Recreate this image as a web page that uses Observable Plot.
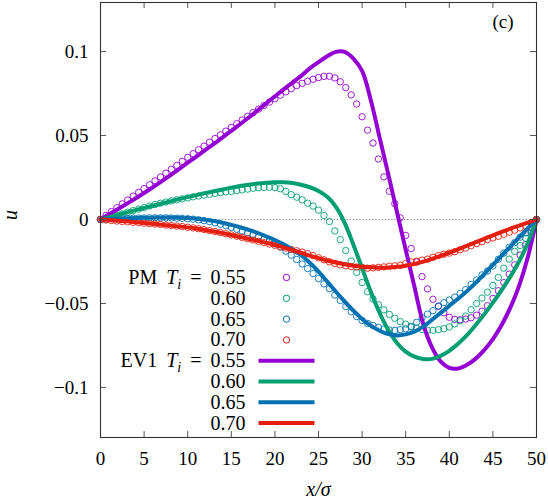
<!DOCTYPE html>
<html>
<head>
<meta charset="utf-8">
<script src="https://cdn.jsdelivr.net/npm/d3@7"></script>
<script src="https://cdn.jsdelivr.net/npm/@observablehq/plot@0.6"></script>
<style>
  html, body { margin: 0; padding: 0; background: #fff; }
</style>
</head>
<body>
<div id="chart"></div>
<script>
// ---------- data ----------
const xTicks = [0, 5, 10, 15, 20, 25, 30, 35, 40, 45, 50];
const xTickLabels = ["0", "5", "10", "15", "20", "25", "30", "35", "40", "45", "50"];
const yTicks = [-0.1, -0.05, 0, 0.05, 0.1];
const yTickLabels = ["\u22120.1", "\u22120.05", "0", "0.05", "0.1"];

const temps = ["0.55", "0.60", "0.65", "0.70"];
const colors = ["#9400d3", "#009e73", "#0072b2", "#e51e10"];

// sample grids (x positions of the solution / particle samples)
const xEV = d3.range(0, 51, 1);
const xPM = d3.range(0, 50.0001, 0.625);

// EV1 solutions at x = 0,1,...,50
const ev055 = [0,0.0031,0.0062,0.0093,0.0125,0.0158,0.0192,0.0227,0.0263,0.0300,0.0338,0.0375,0.0413,0.0450,0.0489,0.0528,0.0567,0.0607,0.0649,0.0691,0.0733,0.0775,0.0815,0.0855,0.0900,0.0937,0.0972,0.0998,0.0998,0.0958,0.0885,0.0710,0.0490,0.0270,0.0045,-0.0180,-0.0400,-0.0620,-0.0760,-0.0845,-0.0883,-0.0887,-0.0866,-0.0830,-0.0778,-0.0712,-0.0628,-0.0525,-0.0395,-0.0225,0];
const ev060 = [0,0.0014,0.0028,0.0042,0.0056,0.0069,0.0082,0.0095,0.0108,0.0121,0.0133,0.0145,0.0157,0.0168,0.0179,0.0189,0.0199,0.0207,0.0214,0.0219,0.0222,0.0222,0.0217,0.0207,0.0192,0.0170,0.0135,0.0075,-0.0020,-0.0150,-0.0290,-0.0430,-0.0555,-0.0658,-0.0735,-0.0787,-0.0817,-0.0830,-0.0830,-0.0812,-0.0782,-0.0740,-0.0690,-0.0630,-0.0565,-0.0495,-0.0420,-0.0340,-0.0250,-0.0140,0];
const ev065 = [0,0.0003,0.0005,0.0007,0.0009,0.0010,0.0011,0.0012,0.0012,0.0011,0.0009,0.0005,-0.0001,-0.0009,-0.0019,-0.0032,-0.0046,-0.0062,-0.0080,-0.0100,-0.0122,-0.0148,-0.0178,-0.0212,-0.0258,-0.0310,-0.0370,-0.0430,-0.0488,-0.0543,-0.0592,-0.0632,-0.0662,-0.0682,-0.0690,-0.0684,-0.0668,-0.0638,-0.0598,-0.0556,-0.0514,-0.0472,-0.0428,-0.0378,-0.0325,-0.0270,-0.0215,-0.0161,-0.0107,-0.0053,0];
const ev070 = [0,-0.0003,-0.0007,-0.0011,-0.0016,-0.0021,-0.0026,-0.0031,-0.0036,-0.0041,-0.0047,-0.0054,-0.0062,-0.0071,-0.0081,-0.0092,-0.0104,-0.0116,-0.0127,-0.0139,-0.0152,-0.0166,-0.0182,-0.0198,-0.0215,-0.0230,-0.0244,-0.0256,-0.0267,-0.0275,-0.0281,-0.0285,-0.0287,-0.0286,-0.0282,-0.0275,-0.0265,-0.0251,-0.0235,-0.0217,-0.0198,-0.0178,-0.0157,-0.0136,-0.0115,-0.0094,-0.0074,-0.0055,-0.0036,-0.0018,0];

// PM measurements at x = 0, 0.625, ..., 50
const pm055 = [0,0.0024,0.0047,0.0070,0.0093,0.0116,0.0139,0.0162,0.0184,0.0207,0.0230,0.0253,0.0276,0.0299,0.0322,0.0346,0.0370,0.0392,0.0415,0.0437,0.0460,0.0482,0.0504,0.0526,0.0548,0.0570,0.0592,0.0614,0.0636,0.0657,0.0678,0.0699,0.0720,0.0740,0.0760,0.0779,0.0797,0.0811,0.0823,0.0835,0.0845,0.0852,0.0853,0.0843,0.0820,0.0785,0.0742,0.0688,0.0612,0.0532,0.0455,0.0360,0.0254,0.0168,0.0094,0.0010,-0.0095,-0.0173,-0.0253,-0.0340,-0.0413,-0.0475,-0.0517,-0.0555,-0.0582,-0.0595,-0.0597,-0.0593,-0.0585,-0.0570,-0.0546,-0.0513,-0.0470,-0.0424,-0.0376,-0.0325,-0.0270,-0.0212,-0.0150,-0.0080,0];
const pm060 = [0,0.0009,0.0018,0.0026,0.0034,0.0043,0.0053,0.0062,0.0071,0.0080,0.0089,0.0097,0.0104,0.0111,0.0117,0.0123,0.0129,0.0135,0.0140,0.0145,0.0150,0.0155,0.0160,0.0164,0.0167,0.0171,0.0176,0.0181,0.0186,0.0189,0.0191,0.0192,0.0190,0.0183,0.0167,0.0148,0.0133,0.0117,0.0097,0.0080,0.0056,0.0024,-0.0012,-0.0068,-0.0120,-0.0185,-0.0248,-0.0315,-0.0375,-0.0430,-0.0473,-0.0508,-0.0538,-0.0565,-0.0588,-0.0608,-0.0623,-0.0636,-0.0647,-0.0655,-0.0659,-0.0660,-0.0656,-0.0650,-0.0640,-0.0622,-0.0603,-0.0575,-0.0537,-0.0500,-0.0468,-0.0433,-0.0393,-0.0345,-0.0290,-0.0236,-0.0190,-0.0155,-0.0112,-0.0060,0];
const pm065 = [0,0.0002,0.0004,0.0005,0.0006,0.0007,0.0008,0.0009,0.0009,0.0010,0.0010,0.0010,0.0010,0.0009,0.0008,0.0007,0.0005,0.0002,-0.0002,-0.0007,-0.0013,-0.0020,-0.0028,-0.0037,-0.0047,-0.0058,-0.0068,-0.0079,-0.0090,-0.0102,-0.0115,-0.0129,-0.0145,-0.0165,-0.0188,-0.0212,-0.0238,-0.0265,-0.0292,-0.0322,-0.0352,-0.0383,-0.0412,-0.0450,-0.0482,-0.0518,-0.0549,-0.0578,-0.0601,-0.0619,-0.0631,-0.0642,-0.0652,-0.0658,-0.0660,-0.0656,-0.0651,-0.0640,-0.0612,-0.0585,-0.0563,-0.0543,-0.0515,-0.0495,-0.0480,-0.0462,-0.0440,-0.0418,-0.0387,-0.0360,-0.0330,-0.0307,-0.0277,-0.0237,-0.0200,-0.0165,-0.0138,-0.0105,-0.0080,-0.0045,0];
const pm070 = [0,-0.0003,-0.0006,-0.0009,-0.0012,-0.0014,-0.0017,-0.0019,-0.0022,-0.0025,-0.0027,-0.0030,-0.0033,-0.0036,-0.0039,-0.0042,-0.0046,-0.0050,-0.0055,-0.0060,-0.0066,-0.0072,-0.0078,-0.0085,-0.0092,-0.0099,-0.0107,-0.0115,-0.0122,-0.0130,-0.0138,-0.0146,-0.0154,-0.0162,-0.0170,-0.0178,-0.0186,-0.0194,-0.0203,-0.0215,-0.0228,-0.0240,-0.0252,-0.0262,-0.0270,-0.0276,-0.0280,-0.0283,-0.0285,-0.0290,-0.0288,-0.0285,-0.0282,-0.0278,-0.0276,-0.0272,-0.0262,-0.0252,-0.0248,-0.0242,-0.0236,-0.0225,-0.0215,-0.0207,-0.0200,-0.0192,-0.0180,-0.0170,-0.0156,-0.0143,-0.0132,-0.0120,-0.0110,-0.0100,-0.0088,-0.0076,-0.0064,-0.0050,-0.0037,-0.0020,0];

const evSeries = [ev055, ev060, ev065, ev070];
const pmSeries = [pm055, pm060, pm065, pm070];
const legendLabels = ["PM T_i = 0.55", "0.60", "0.65", "0.70", "EV1 T_i = 0.55", "0.60", "0.65", "0.70"];

// ---------- build ----------
const font = "'Liberation Serif', 'Times New Roman', serif";
const W = 548, H = 500, mL = 100, mR = 12, mT = 2, mB = 63;
const innerW = W - mL - mR, innerH = H - mT - mB;
const tickLen = 6;

const pmTables = pmSeries.map(s => xPM.map((x, i) => ({x, y: s[i]})));
const evTables = evSeries.map(s => xEV.map((x, i) => ({x, y: s[i]})));

const lineSymbol = {draw(ctx) { ctx.moveTo(-28, 0); ctx.lineTo(28, 0); }};

const legendMarks = [];
legendLabels.forEach((lab, i) => {
  const dy = 275 + i * 20.8;
  legendMarks.push(Plot.text([lab], {frameAnchor: "top-left", dx: 145, dy, textAnchor: "end", lineAnchor: "middle",
    fontSize: 20, fill: "#000", fontFamily: font}));
  const c = colors[i % 4];
  if (i < 4) {
    legendMarks.push(Plot.dot([0], {frameAnchor: "top-left", dx: 186, dy, r: 3.2, stroke: c, strokeWidth: 1, fill: "none"}));
  } else {
    legendMarks.push(Plot.dot([0], {frameAnchor: "top-left", dx: 186, dy, r: 10, symbol: lineSymbol, stroke: c, strokeWidth: 4, fill: "none"}));
  }
});

const chart = Plot.plot({
  width: W, height: H,
  marginLeft: mL, marginRight: mR, marginTop: mT, marginBottom: mB,
  style: {fontFamily: font, fontSize: "19px", background: "#fff", color: "#000"},
  x: {domain: [0, 50]},
  y: {domain: [-0.1298, 0.1292]},
  marks: [
    Plot.ruleY([0], {stroke: "#666", strokeWidth: 0.9, strokeDasharray: "1.2,2"}),
    ...pmTables.map((t, i) => Plot.dot(t, {x: "x", y: "y", r: 3.2, stroke: colors[i], strokeWidth: 0.9, fill: "none"})),
    ...pmTables.map((t, i) => Plot.dot(t, {x: "x", y: "y", r: 0.45, fill: colors[i], fillOpacity: 0.45})),
    ...evTables.map((t, i) => Plot.line(t, {x: "x", y: "y", stroke: colors[i], strokeWidth: 4, curve: "catmull-rom", strokeLinejoin: "round"})),
    // inward ticks on all four sides
    Plot.tickX(xTicks, {x: d => d, insetTop: innerH - tickLen, stroke: "#555"}),
    Plot.tickX(xTicks, {x: d => d, insetBottom: innerH - tickLen, stroke: "#555"}),
    Plot.tickY(yTicks, {y: d => d, insetRight: innerW - tickLen, stroke: "#555"}),
    Plot.tickY(yTicks, {y: d => d, insetLeft: innerW - tickLen, stroke: "#555"}),
    Plot.axisX(xTicks, {tickSize: 0, tickPadding: 14, label: null, fontSize: 19,
      tickFormat: d => xTickLabels[xTicks.indexOf(d)]}),
    Plot.axisY(yTicks, {tickSize: 0, tickPadding: 12, label: null, fontSize: 19,
      tickFormat: d => yTickLabels[yTicks.indexOf(d)]}),
    Plot.text(["x/\u03c3"], {frameAnchor: "bottom", dy: 52, lineAnchor: "middle", fontStyle: "italic", fontSize: 20, fill: "#000"}),
    Plot.text(["u"], {frameAnchor: "left", dx: -90, lineAnchor: "middle", rotate: -90, fontStyle: "italic", fontSize: 20, fill: "#000"}),
    Plot.text(["(c)"], {frameAnchor: "top-right", dx: -23, dy: 19, lineAnchor: "middle", fontSize: 19, fill: "#000"}),
    ...legendMarks,
    Plot.frame({stroke: "#333", strokeWidth: 1.1})
  ]
});

document.getElementById("chart").appendChild(chart);

// rich text for "T_i" in legend labels (math-style spacing)
d3.select(chart).selectAll("text").each(function() {
  const t = this.textContent;
  if (!t.includes("T_i")) return;
  const [pre, post] = t.split("T_i");
  const sel = d3.select(this);
  sel.text(null);
  sel.append("tspan").text(pre.trim() + "\u00a0\u2009");
  sel.append("tspan").attr("font-style", "italic").text("T");
  sel.append("tspan").attr("font-style", "italic").attr("font-size", 14).attr("dy", 5).text("i");
  sel.append("tspan").attr("dy", -5).text(post.replace(" = ", "\u00a0\u2009=\u00a0\u2009"));
});
</script>
</body>
</html>
